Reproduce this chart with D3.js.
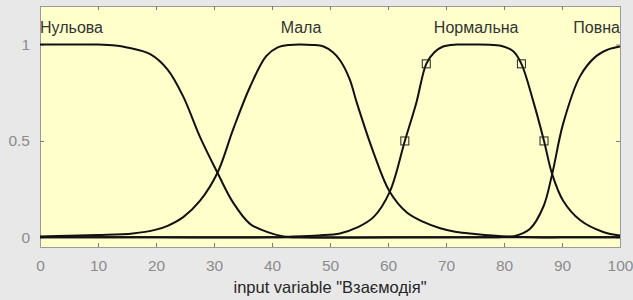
<!DOCTYPE html>
<html>
<head>
<meta charset="utf-8">
<script src="https://cdn.jsdelivr.net/npm/d3@7"></script>
<style>
  body { margin: 0; background: #e8e8e8; }
  text { font-family: "Liberation Sans", Arial, sans-serif; }
</style>
</head>
<body>
<div id="chart"></div>
<script>
// membership functions
var zeroX = [0, 5, 10, 13, 15, 19, 22, 24.7, 27.6, 30.6, 33.3, 36.2, 39, 42, 45, 60, 80, 100];
var zeroY = [1, 1, 1, 0.995, 0.985, 0.95, 0.87, 0.73, 0.52, 0.335, 0.18, 0.07, 0.03, 0.005, 0, 0, 0, 0];

var smallX = [0, 5, 10, 16, 20, 22, 24.7, 27.6, 30.6, 33.3, 36.2, 39, 41, 43, 45, 47, 48.9, 50.5, 51.7, 53.4, 54.6, 57.5, 60.3, 63.2, 66.1, 69, 71.8, 75, 78, 81, 85, 90, 100];
var smallY = [0.005, 0.008, 0.012, 0.02, 0.04, 0.06, 0.105, 0.19, 0.335, 0.56, 0.78, 0.94, 0.985, 0.998, 1, 0.998, 0.99, 0.96, 0.92, 0.82, 0.7, 0.44, 0.236, 0.13, 0.08, 0.047, 0.028, 0.018, 0.01, 0.004, 0, 0, 0];

var normX = [0, 20, 40, 43, 48, 51.7, 54.6, 57.5, 60.3, 62.9, 64.9, 66.6, 68, 69.5, 71.8, 75, 78, 79.9, 81.6, 83, 85.1, 86.9, 88.3, 90.2, 93.1, 97.1, 100];
var normY = [0, 0, 0, 0.003, 0.01, 0.02, 0.05, 0.105, 0.236, 0.5, 0.7, 0.9, 0.96, 0.99, 1, 1, 0.998, 0.99, 0.965, 0.9, 0.7, 0.5, 0.328, 0.19, 0.09, 0.028, 0.01];

var fullX = [0, 40, 78, 80, 81.6, 84.5, 86.8, 88.3, 90.2, 93.1, 95.9, 98, 100];
var fullY = [0, 0, 0, 0.002, 0.005, 0.045, 0.16, 0.328, 0.59, 0.835, 0.94, 0.975, 0.99];

var markX = [62.9, 66.6, 83, 86.9];
var markY = [0.5, 0.9, 0.9, 0.5];

var mfNames = ["Нульова", "Мала", "Нормальна", "Повна"];
var mfLabelX = [0, 45, 75.2, 100];
var mfAnchor = ["start", "middle", "middle", "end"];

var xTicks = [0, 10, 20, 30, 40, 50, 60, 70, 80, 90, 100];
var yTicks = [0, 0.5, 1];
var xTitle = 'input variable "Взаємодія"';

var width = 633, height = 300;
var margin = {left: 40, right: 13, top: 6, bottom: 53};

var svg = d3.select("#chart").append("svg")
    .attr("width", width)
    .attr("height", height);

svg.append("rect").attr("width", width).attr("height", height).attr("fill", "#e8e8e8");

var x = d3.scaleLinear().domain([0, 100]).range([margin.left, width - margin.right]);
var y = d3.scaleLinear().domain([-0.05, 1.2]).range([height - margin.bottom, margin.top]);

// plot area
svg.append("rect")
    .attr("x", x(0)).attr("y", y(1.2))
    .attr("width", x(100) - x(0)).attr("height", y(-0.05) - y(1.2))
    .attr("fill", "#ffffcc");

// axes
var tickCol = "#8c8c8c";
var gx = svg.append("g")
    .attr("transform", "translate(0," + y(-0.05) + ")")
    .call(d3.axisBottom(x).tickValues(xTicks).tickSize(-4).tickPadding(13).tickFormat(d3.format("d")));
var gxTop = svg.append("g")
    .attr("transform", "translate(0," + y(1.2) + ")")
    .call(d3.axisTop(x).tickValues(xTicks).tickSize(-4).tickFormat(""));
var gy = svg.append("g")
    .attr("transform", "translate(" + x(0) + ",0)")
    .call(d3.axisLeft(y).tickValues(yTicks).tickSize(-4).tickPadding(10).tickFormat(d3.format("")));
var gyR = svg.append("g")
    .attr("transform", "translate(" + x(100) + ",0)")
    .call(d3.axisRight(y).tickValues(yTicks).tickSize(-4).tickFormat(""));

[gx, gxTop, gy, gyR].forEach(function(g) {
    g.select(".domain").attr("stroke", "#9a9a9a");
    g.selectAll(".tick line").attr("stroke", "#7a7a7a");
    g.selectAll(".tick text").attr("fill", tickCol).style("font-size", "15.5px");
});

// curves
var line = d3.line()
    .x(function(d) { return x(d[0]); })
    .y(function(d) { return y(d[1]); })
    .curve(d3.curveCatmullRom.alpha(0.5));

var series = [[zeroX, zeroY], [smallX, smallY], [normX, normY], [fullX, fullY]];
series.forEach(function(s) {
    var pts = s[0].map(function(v, i) { return [v, s[1][i]]; });
    svg.append("path")
        .datum(pts)
        .attr("d", line)
        .attr("fill", "none")
        .attr("stroke", "#111")
        .attr("stroke-width", 2);
});

// square markers
svg.selectAll(".mark")
    .data(markX.map(function(v, i) { return [v, markY[i]]; }))
    .enter().append("rect")
    .attr("class", "mark")
    .attr("x", function(d) { return x(d[0]) - 4; })
    .attr("y", function(d) { return y(d[1]) - 4; })
    .attr("width", 8).attr("height", 8)
    .attr("fill", "none")
    .attr("stroke", "#222")
    .attr("stroke-width", 1);

// mf names
svg.selectAll(".mfname")
    .data(mfNames)
    .enter().append("text")
    .attr("class", "mfname")
    .attr("x", function(d, i) { return x(mfLabelX[i]); })
    .attr("y", y(1.1))
    .attr("dy", "0.48em")
    .attr("text-anchor", function(d, i) { return mfAnchor[i]; })
    .attr("fill", "#333")
    .style("font-size", "16px")
    .text(function(d) { return d; });

// x title
svg.append("text")
    .attr("x", (x(0) + x(100)) / 2)
    .attr("y", 293)
    .attr("text-anchor", "middle")
    .attr("fill", "#262626")
    .style("font-size", "16.5px")
    .text(xTitle);
</script>
</body>
</html>
